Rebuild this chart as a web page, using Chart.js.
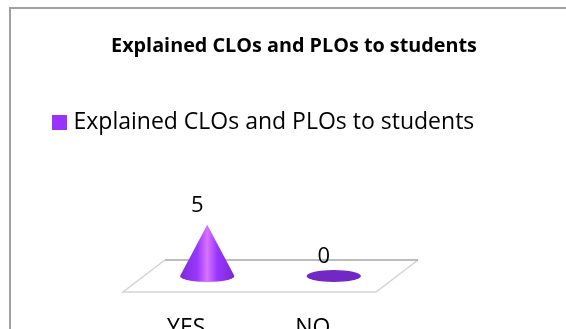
<!DOCTYPE html>
<html>
<head>
<meta charset="utf-8">
<style>
  html, body { margin: 0; padding: 0; background: #fff; overflow: hidden; }
  #wrap { position: relative; width: 566px; height: 329px; overflow: hidden; }
  canvas { position: absolute; left: 0; top: 0; }
</style>
<script src="https://cdn.jsdelivr.net/npm/chart.js@4"></script>
</head>
<body>
<div id="wrap"><canvas id="chartCanvas" width="566" height="350" style="width:566px;height:350px"></canvas></div>
<script>
const chartTitle = 'Explained CLOs and PLOs to students';
const categories = ['YES', 'NO'];
const responses = [5, 0];

const fontName = '"Open Sans", sans-serif';
const purple = '#9933ff';
// fake 3D floor: how far the back edge sits from the front edge
const depthX = 42;
const depthY = -32;

// bar controller that paints cones instead of rectangles
class ConeController extends Chart.BarController {
  draw() {
    const ctx = this.chart.ctx;
    const values = this.getDataset().data;
    this.getMeta().data.forEach((bar, i) => {
      const cx = bar.x + depthX / 2;
      const baseY = bar.base + depthY / 2;
      const tipY = bar.y + depthY / 2;
      const rx = bar.width / 2;
      const ry = 6;

      ctx.save();
      if (values[i] === 0) {
        ctx.fillStyle = '#7228c4';
        ctx.beginPath();
        ctx.ellipse(cx, baseY, rx, ry, 0, 0, Math.PI * 2);
        ctx.fill();
      } else {
        const grad = ctx.createLinearGradient(cx - rx, 0, cx + rx, 0);
        grad.addColorStop(0, '#7c2ad6');
        grad.addColorStop(0.32, '#9a38ff');
        grad.addColorStop(0.5, '#d873ff');
        grad.addColorStop(0.68, '#9a38ff');
        grad.addColorStop(1, '#7a28d0');
        ctx.fillStyle = grad;
        ctx.beginPath();
        ctx.moveTo(cx, tipY);
        ctx.lineTo(cx + rx, baseY);
        ctx.ellipse(cx, baseY, rx, ry, 0, 0, Math.PI);
        ctx.closePath();
        ctx.fill();
      }
      ctx.fillStyle = '#000';
      ctx.font = '22px ' + fontName;
      ctx.textAlign = 'center';
      ctx.textBaseline = 'middle';
      ctx.fillText(String(values[i]), cx - 10, tipY - 19);
      ctx.restore();
    });
  }
}
ConeController.id = 'cone';
ConeController.defaults = Chart.BarController.defaults;
ConeController.overrides = Chart.BarController.overrides;
Chart.register(ConeController);

const framePlugin = {
  id: 'frame',
  beforeDraw(chart) {
    const ctx = chart.ctx;
    ctx.save();
    ctx.fillStyle = '#fff';
    ctx.fillRect(0, 0, chart.width, chart.height);
    ctx.strokeStyle = '#a0a0a0';
    ctx.lineWidth = 2;
    ctx.beginPath();
    ctx.moveTo(10, chart.height);
    ctx.lineTo(10, 8);
    ctx.lineTo(chart.width, 8);
    ctx.stroke();
    ctx.restore();
  },
  beforeDatasetsDraw(chart) {
    const ctx = chart.ctx;
    const a = chart.chartArea;
    ctx.save();
    ctx.lineWidth = 1.5;
    ctx.strokeStyle = '#d4d4d4';
    ctx.beginPath();
    ctx.moveTo(a.left + depthX, a.bottom + depthY);
    ctx.lineTo(a.left, a.bottom);
    ctx.lineTo(a.right, a.bottom);
    ctx.lineTo(a.right + depthX, a.bottom + depthY);
    ctx.stroke();
    ctx.strokeStyle = '#a6a6a6';
    ctx.beginPath();
    ctx.moveTo(a.left + depthX, a.bottom + depthY);
    ctx.lineTo(a.right + depthX, a.bottom + depthY);
    ctx.stroke();
    ctx.restore();
  }
};

// hidden axes only reserve room so the plot lands where it should
function spacer(position, size) {
  return {
    position: position,
    display: true,
    grid: { display: false },
    border: { display: false },
    ticks: { display: false },
    afterFit(scale) {
      if (scale.isHorizontal()) scale.height = size;
      else scale.width = size;
    }
  };
}

// legend square, as an image so it can sit closer to the text than the default gap
const swatch = document.createElement('canvas');
swatch.width = 15;
swatch.height = 15;
const swatchCtx = swatch.getContext('2d');
swatchCtx.fillStyle = purple;
swatchCtx.fillRect(0, 0, 15, 15);

new Chart(document.getElementById('chartCanvas'), {
  type: 'cone',
  plugins: [framePlugin],
  data: {
    labels: categories,
    datasets: [{
      label: chartTitle,
      data: responses,
      backgroundColor: purple,
      barPercentage: 0.43,
      categoryPercentage: 1,
      clip: false
    }]
  },
  options: {
    responsive: false,
    animation: false,
    layout: { padding: { left: 22, right: 0, top: 0, bottom: 0 } },
    scales: {
      x: {
        position: 'bottom',
        grid: { display: false },
        border: { display: false },
        ticks: { color: '#000', font: { family: fontName, size: 23 }, padding: 15, maxRotation: 0 },
        afterFit(scale) { scale.height = 58; }
      },
      xTop: Object.assign(spacer('top', 97), { axis: 'x', type: 'category' }),
      y: Object.assign(spacer('left', 101), { min: 0, max: 5 }),
      yRight: Object.assign(spacer('right', 190), { axis: 'y', type: 'linear', min: 0, max: 5 })
    },
    plugins: {
      tooltip: { enabled: false },
      title: {
        display: true,
        text: chartTitle,
        color: '#000',
        font: { family: fontName, size: 19.8, weight: 'bold' },
        padding: { top: 34, bottom: 18 }
      },
      legend: {
        display: true,
        position: 'top',
        align: 'start',
        labels: {
          color: '#000',
          font: { family: fontName, size: 23 },
          usePointStyle: true,
          pointStyle: swatch,
          pointStyleWidth: 5,
          padding: 35
        }
      }
    }
  }
});
</script>
</body>
</html>
